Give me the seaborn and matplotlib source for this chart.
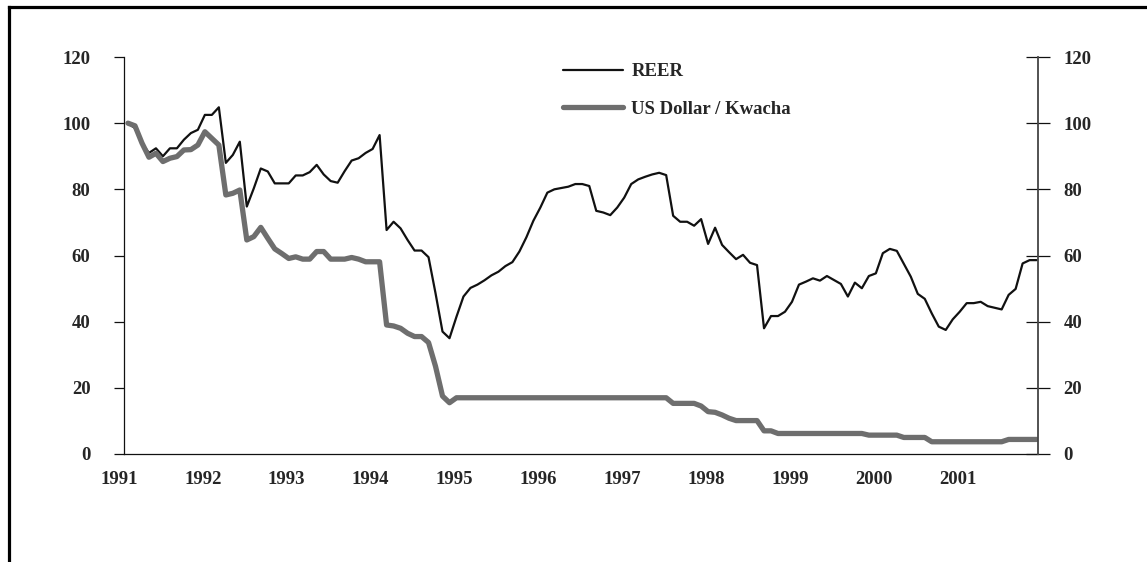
import numpy as np
import pandas as pd
import matplotlib
matplotlib.use("Agg")
import matplotlib.pyplot as plt
import matplotlib.transforms as mtransforms
from matplotlib.lines import Line2D
import seaborn as sns

# ---------------- data ----------------
year_labels = ["1991", "1992", "1993", "1994", "1995", "1996",
               "1997", "1998", "1999", "2000", "2001"]
y_ticks = [0, 20, 40, 60, 80, 100, 120]

# monthly values, Jan 1991 onwards
reer = [100, 98.5, 94, 91, 92.4, 90, 92.4, 92.4, 95, 97,
        98, 102.5, 102.5, 104.8, 88, 90.4, 94.4, 74.8, 80.3, 86.3,
        85.4, 81.8, 81.8, 81.8, 84.2, 84.2, 85.2, 87.4, 84.5, 82.5,
        82, 85.5, 88.7, 89.4, 91, 92.2, 96.4, 67.7, 70.2, 68.2,
        64.7, 61.5, 61.5, 59.5, 48.6, 37, 35, 41.5, 47.6, 50.2,
        51.2, 52.5, 54, 55.1, 56.8, 58, 61.2, 65.5, 70.5, 74.5,
        79, 80, 80.4, 80.8, 81.6, 81.6, 81, 73.5, 73, 72.2,
        74.5, 77.5, 81.6, 83, 83.8, 84.5, 85, 84.3, 72, 70.2,
        70.2, 69, 71, 63.5, 68.4, 63.2, 61, 58.9, 60.2, 57.8,
        57.1, 38, 41.7, 41.7, 43, 46, 51.2, 52.1, 53.1, 52.4,
        53.8, 52.6, 51.4, 47.6, 51.8, 50.1, 53.8, 54.6, 60.7, 62,
        61.4, 57.5, 53.6, 48.4, 46.9, 42.5, 38.5, 37.5, 40.7, 43,
        45.6, 45.6, 46, 44.7, 44.2, 43.7, 48.1, 49.9, 57.6, 58.6,
        58.6]

usd_kwacha = [100, 99.2, 94, 89.7, 90.9, 88.4, 89.4, 89.9, 91.9, 92,
              93.4, 97.4, 95.4, 93.4, 78.3, 78.8, 79.8, 64.7, 65.7, 68.5,
              65.2, 62, 60.6, 59.1, 59.6, 58.9, 58.9, 61.2, 61.2, 58.9,
              58.9, 58.9, 59.4, 58.9, 58.1, 58.1, 58.1, 39, 38.7, 38,
              36.5, 35.5, 35.5, 33.7, 26.5, 17.5, 15.5, 17, 17, 17,
              17, 17, 17, 17, 17, 17, 17, 17, 17, 17,
              17, 17, 17, 17, 17, 17, 17, 17, 17, 17,
              17, 17, 17, 17, 17, 17, 17, 17, 15.3, 15.3,
              15.3, 15.3, 14.5, 12.8, 12.6, 11.8, 10.8, 10.1, 10.1, 10.1,
              10.1, 7, 7, 6.2, 6.2, 6.2, 6.2, 6.2, 6.2, 6.2,
              6.2, 6.2, 6.2, 6.2, 6.2, 6.2, 5.7, 5.7, 5.7, 5.7,
              5.7, 5, 5, 5, 5, 3.7, 3.7, 3.7, 3.7, 3.7,
              3.7, 3.7, 3.7, 3.7, 3.7, 3.7, 4.4, 4.4, 4.4, 4.4,
              4.4]

series_names = ["REER", "US Dollar / Kwacha"]

# ---------------- style ----------------
sns.set_style("white")
plt.rcParams['font.family'] = ['Liberation Serif', 'DejaVu Serif']
plt.rcParams['font.weight'] = 'bold'
FS = 13.5

month = np.arange(len(reer))
df = pd.DataFrame({"month": month, series_names[0]: reer, series_names[1]: usd_kwacha})
long = df.melt(id_vars="month", var_name="series", value_name="value")

colors = {series_names[0]: "#111111", series_names[1]: "#6e6e6e"}
widths = {series_names[0]: 1.6, series_names[1]: 3.8}

fig = plt.figure(figsize=(11.47, 5.62), dpi=100)
W, H = 1147, 562
ax = fig.add_axes([124 / W, 1 - 454 / H, (1038 - 124) / W, (454 - 57) / H])

sns.lineplot(data=long, x="month", y="value", hue="series", hue_order=series_names,
             palette=colors, size="series", sizes=widths, size_order=series_names,
             ax=ax, legend=False, estimator=None)

ax.set_xlim(-0.57, 130.2)
ax.set_ylim(0, 120)
ax.set_xlabel("")
ax.set_ylabel("")

# spines
for s in ["top", "right"]:
    ax.spines[s].set_visible(False)
for s in ["left", "bottom"]:
    ax.spines[s].set_color("#111111")
    ax.spines[s].set_linewidth(0.9)

# y axis (left)
ax.set_yticks(y_ticks)
ax.set_yticklabels([str(v) for v in y_ticks])
ax.tick_params(axis="y", direction="out", length=7.2, width=0.9, color="#111111",
               pad=17, labelsize=FS)

# x axis: year labels at January of each year, monthly minor ticks
ax.set_xticks(month[::12][:len(year_labels)])
ax.set_xticklabels(year_labels)
ax.set_xticks(month, minor=True)
ax.tick_params(axis="x", which="both", direction="out", length=4.3, width=0.9,
               color="#111111", pad=8, labelsize=FS)
offset = mtransforms.ScaledTranslation(-9 / 100, 0, fig.dpi_scale_trans)
for lab in ax.get_xticklabels():
    lab.set_transform(lab.get_transform() + offset)
    lab.set_fontweight("bold")
for lab in ax.get_yticklabels():
    lab.set_fontweight("bold")

# right axis
ax2 = ax.twinx()
ax2.set_ylim(0, 120)
ax2.set_yticks(y_ticks)
ax2.set_yticklabels([str(v) for v in y_ticks])
for s in ["top", "left", "bottom"]:
    ax2.spines[s].set_visible(False)
ax2.spines["right"].set_color("#444444")
ax2.spines["right"].set_linewidth(1.3)
ax2.tick_params(axis="y", direction="inout", length=17, width=0.9, color="#111111",
                pad=10, labelsize=FS)
for lab in ax2.get_yticklabels():
    lab.set_fontweight("bold")
ax2.grid(False)
ax.grid(False)

# legend
handles = [Line2D([0], [0], color=colors[n], lw=widths[n]) for n in series_names]
leg = ax.legend(handles, series_names, loc="upper left",
                bbox_to_anchor=(563 / W, 1 - 63 / H), bbox_transform=fig.transFigure,
                frameon=False, borderpad=0, borderaxespad=0, handlelength=3.2,
                handletextpad=0.45, labelspacing=1.1,
                prop={"family": ["Liberation Serif", "DejaVu Serif"], "weight": "bold", "size": FS})

# outer frame (top and left edges visible)
fig.add_artist(Line2D([9 / W, 1.01], [1 - 7 / H, 1 - 7 / H], transform=fig.transFigure,
                      color="black", lw=2.3, solid_capstyle="projecting"))
fig.add_artist(Line2D([9 / W, 9 / W], [1 - 7 / H, -0.02], transform=fig.transFigure,
                      color="black", lw=2.3, solid_capstyle="projecting"))

fig.savefig("out.png", dpi=100, facecolor="white")
